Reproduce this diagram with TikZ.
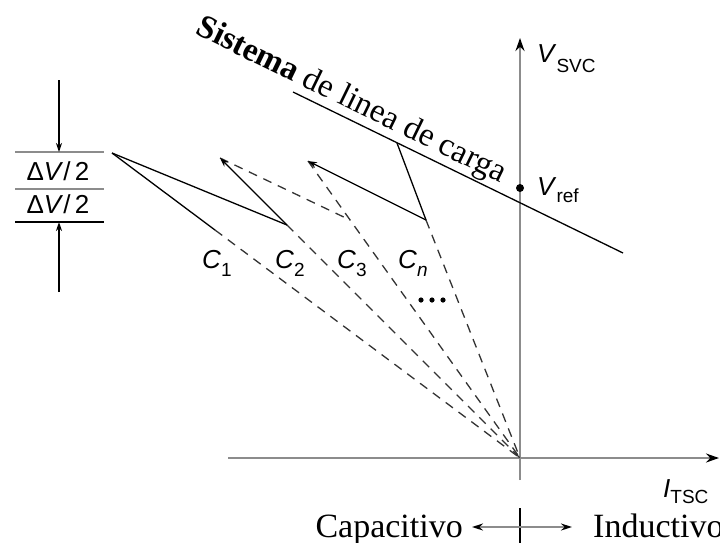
\documentclass[tikz,border=0pt]{standalone}
\usepackage{fontspec}
\setmainfont{Liberation Serif}
\setsansfont{Liberation Sans}
\usetikzlibrary{arrows.meta}
\definecolor{axisgray}{HTML}{8C8C8C}
\definecolor{dashgray}{HTML}{333333}
\newcommand\lblsub[3]{\textit{#1}\raisebox{-#3}{\fontsize{19}{19}\selectfont #2}}
\begin{document}
\begin{tikzpicture}[x=1pt,y=-1pt,
  axisline/.style={draw=axisgray,line width=2.4pt},
  solidline/.style={draw=black,line width=1.3pt},
  dashline/.style={draw=dashgray,line width=1.3pt,dash pattern=on 9pt off 7pt},
  smalltip/.style={-{Stealth[length=9pt,width=6pt]}},
  bigtip/.style={-{Stealth[length=13pt,width=9pt,color=black]}},
  sflabel/.style={font=\sffamily\fontsize{26}{26}\selectfont,inner sep=0pt,anchor=base west},
  serlabel/.style={font=\fontsize{34}{34}\selectfont,inner sep=0pt}]
\useasboundingbox (0,0) rectangle (720,542);
% key points
\coordinate (O) at (520,458);
\coordinate (P1) at (112,153);
\coordinate (A1) at (215,230);
\coordinate (T2) at (220,158);
\coordinate (V2) at (287,225);
\coordinate (T3) at (308,161);
\coordinate (X3) at (350,220);
\coordinate (L) at (397,143);
\coordinate (Vn) at (426,220);
\coordinate (LL1) at (293,92);
\coordinate (LL2) at (623,253);
\coordinate (Vr) at (520,188);
% axes
\coordinate (VA0) at (520,480);
\coordinate (VA1) at (520,38);
\coordinate (HA0) at (228,458);
\coordinate (HA1) at (719,458);
\draw[axisline,bigtip] (VA0) -- (VA1);
\draw[axisline,bigtip] (HA0) -- (HA1);
% load line
\draw[solidline] (LL1) -- (LL2);
\fill (Vr) circle (4pt);
% dashed capacitor lines
\draw[dashline] (A1) -- (O);
\draw[dashline] (V2) -- (O);
\draw[dashline] (T3) -- (O);
\draw[dashline] (Vn) -- (O);
\draw[dashline] (T2) -- (X3);
% solid zigzag
\draw[solidline] (P1) -- (A1);
\draw[solidline] (P1) -- (V2);
\draw[solidline,smalltip] (V2) -- (T2);
\draw[solidline] (L) -- (Vn);
\draw[solidline,smalltip] (Vn) -- (T3);
% dots
\foreach \i/\xx in {1/421,2/432,3/443} \fill (\xx,300) circle (2.6pt);
% labels
\node[sflabel] (vsvc) at (537,62) {\lblsub{V}{SVC}{10pt}};
\node[sflabel] (vref) at (537,195) {\lblsub{V}{ref}{7pt}};
\node[sflabel] (itsc) at (663,497) {\lblsub{I}{TSC}{6pt}};
\node[sflabel] (c1) at (202,268) {\lblsub{C}{1}{8pt}};
\node[sflabel] (c2) at (275,268) {\lblsub{C}{2}{8pt}};
\node[sflabel] (c3) at (337,268) {\lblsub{C}{3}{8pt}};
\node[sflabel] (cn) at (398,268) {\lblsub{C}{\textit{n}}{8pt}};
% load line label
\node[font=\fontsize{33}{33}\selectfont,rotate=-26,inner sep=0pt] (sis) at (351,101) {\textbf{Sistema} de linea de carga};
% delta V dimension
\coordinate (DT0) at (59,80);
\coordinate (DT1) at (59,152);
\coordinate (DB0) at (59,292);
\coordinate (DB1) at (59,222);
\draw[draw=axisgray,line width=1.6pt] (15,152) -- (104,152);
\draw[draw=axisgray,line width=1.6pt] (15,189) -- (104,189);
\draw[draw=black,line width=1.6pt] (15,222) -- (104,222);
\draw[solidline,smalltip] (DT0) -- (DT1);
\draw[solidline,smalltip] (DB0) -- (DB1);
\node[font=\sffamily\fontsize{26}{26}\selectfont,inner sep=0pt,anchor=base] (dv1) at (58,180) {Δ\textit{V}/\,2};
\node[font=\sffamily\fontsize{26}{26}\selectfont,inner sep=0pt,anchor=base] (dv2) at (58,213) {Δ\textit{V}/\,2};
% capacitive / inductive
\coordinate (M) at (520,527);
\coordinate (ML) at (472,527);
\coordinate (MR) at (572,527);
\draw[draw=black,line width=1.3pt] (520,508) -- (520,545);
\draw[draw=axisgray,line width=1.6pt,-{Stealth[length=11pt,width=7pt,color=black]}] (M) -- (ML);
\draw[draw=axisgray,line width=1.6pt,-{Stealth[length=11pt,width=7pt,color=black]}] (M) -- (MR);
\node[serlabel,anchor=base east] (cap) at (463,537) {Capacitivo};
\node[serlabel,anchor=base west] (ind) at (593,537) {Inductivo};
\end{tikzpicture}
\end{document}
